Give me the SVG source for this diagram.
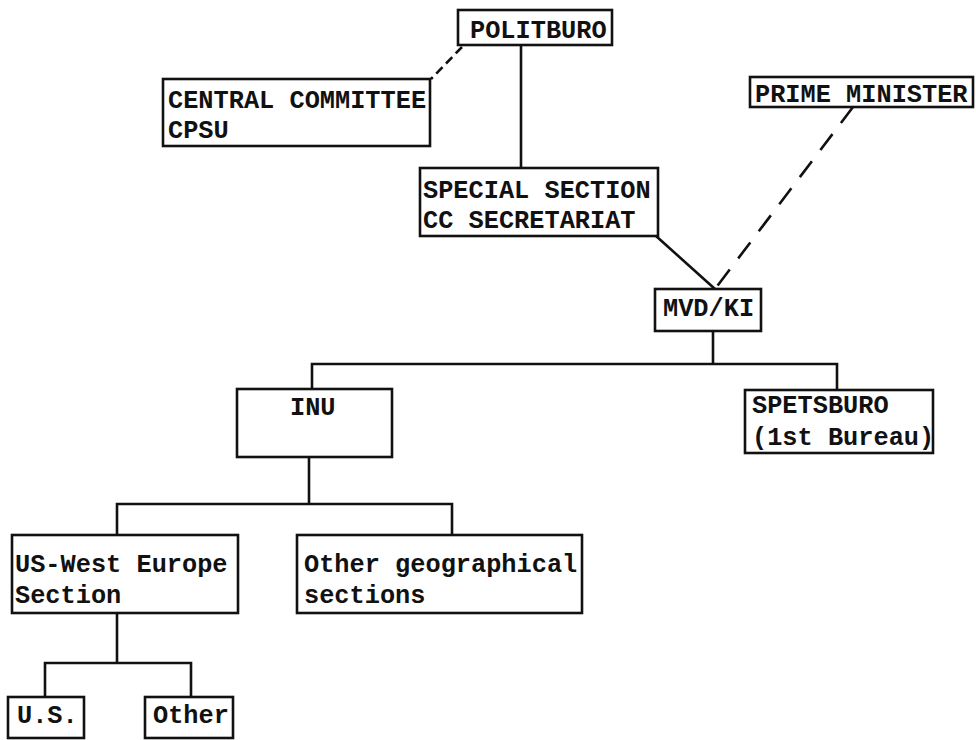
<svg xmlns="http://www.w3.org/2000/svg" width="976" height="740" viewBox="0 0 976 740">
<style>
.box{fill:none;stroke:#111;stroke-width:2.6}
.t{font-family:"Liberation Mono","DejaVu Sans Mono",monospace;font-weight:bold;font-size:25.3px;fill:#111}
.ln{fill:none;stroke:#111;stroke-width:2.6}
.dash1{fill:none;stroke:#111;stroke-width:2.6;stroke-dasharray:9 5}
.dash2{fill:none;stroke:#111;stroke-width:2.6;stroke-dasharray:20 14}
</style>
<rect width="976" height="740" fill="#fff"/>
<g id="connectors">
<line class="ln" x1="521" y1="45" x2="521" y2="168"/>
<line class="dash1" x1="462" y1="47" x2="431" y2="79"/>
<line class="ln" x1="656" y1="236" x2="715" y2="289"/>
<line class="dash2" x1="853" y1="107" x2="715" y2="289"/>
<polyline class="ln" points="713,331 713,364"/>
<polyline class="ln" points="312,389 312,364 837,364 837,390"/>
<polyline class="ln" points="309,457 309,504"/>
<polyline class="ln" points="117,535 117,504 452,504 452,535"/>
<polyline class="ln" points="117,613 117,663"/>
<polyline class="ln" points="45,697 45,663 191,663 191,697"/>
</g>
<g id="politburo"><rect class="box" x="458" y="10" width="154" height="35"/><text class="t" x="470" y="38">POLITBURO</text></g>
<g id="central-committee"><rect class="box" x="163" y="79" width="267" height="67"/><text class="t" x="168" y="108">CENTRAL COMMITTEE</text><text class="t" x="168" y="138">CPSU</text></g>
<g id="prime-minister"><rect class="box" x="750" y="77" width="223" height="30"/><text class="t" x="755" y="102">PRIME MINISTER</text></g>
<g id="special-section"><rect class="box" x="420" y="168" width="238" height="68"/><text class="t" x="423" y="198">SPECIAL SECTION</text><text class="t" x="423" y="228">CC SECRETARIAT</text></g>
<g id="mvd-ki"><rect class="box" x="655" y="289" width="106" height="42"/><text class="t" x="663" y="316">MVD/KI</text></g>
<g id="inu"><rect class="box" x="237" y="389" width="155" height="68"/><text class="t" x="290" y="415">INU</text></g>
<g id="spetsburo"><rect class="box" x="745" y="390" width="188" height="63"/><text class="t" x="752" y="413">SPETSBURO</text><text class="t" x="752" y="445">(1st Bureau)</text></g>
<g id="us-west-europe"><rect class="box" x="12" y="535" width="226" height="78"/><text class="t" x="15" y="572">US-West Europe</text><text class="t" x="15" y="603">Section</text></g>
<g id="other-geographical"><rect class="box" x="297" y="535" width="285" height="78"/><text class="t" x="304" y="572">Other geographical</text><text class="t" x="304" y="603">sections</text></g>
<g id="us"><rect class="box" x="8" y="697" width="76" height="41"/><text class="t" x="17" y="723">U.S.</text></g>
<g id="other"><rect class="box" x="145" y="697" width="88" height="41"/><text class="t" x="153" y="723">Other</text></g>
</svg>
